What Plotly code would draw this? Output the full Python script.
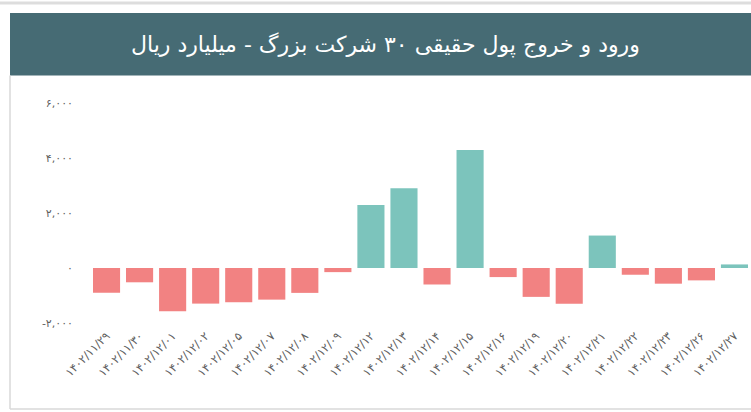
import plotly.graph_objects as go

dates = ["1402/11/29", "1402/11/30", "1402/12/01", "1402/12/02", "1402/12/05",
         "1402/12/07", "1402/12/08", "1402/12/09", "1402/12/12", "1402/12/13",
         "1402/12/14", "1402/12/15", "1402/12/16", "1402/12/19", "1402/12/20",
         "1402/12/21", "1402/12/22", "1402/12/23", "1402/12/26", "1402/12/27"]
values = [-900, -520, -1570, -1295, -1245, -1150, -905, -150, 2290, 2900,
          -600, 4290, -330, -1050, -1300, 1180, -245, -570, -450, 130]
ytick_vals = [-2000, 0, 2000, 4000, 6000]
title_text = "ورود و خروج پول حقیقی ۳۰ شرکت بزرگ - میلیارد ریال"

POS_COLOR = "#7CC4BC"
NEG_COLOR = "#F28282"

fa_digits = str.maketrans("0123456789", "۰۱۲۳۴۵۶۷۸۹")


def to_fa(s):
    return s.translate(fa_digits)


x_labels = [to_fa(d) for d in dates]
ytick_text = [("-" if v < 0 else "") + to_fa(f"{abs(v):,}") for v in ytick_vals]
colors = [POS_COLOR if v >= 0 else NEG_COLOR for v in values]

fig = go.Figure(go.Bar(x=x_labels, y=values, marker=dict(color=colors, line=dict(width=0)),
                       hoverinfo="x+y"))

W, H = 751, 412
L, R, T, B = 90, 0, 102.5, 88.5
pw, ph = W - L - R, H - T - B


def px_x(p):
    return (p - L) / pw


def px_y(p):
    return (H - B - p) / ph


fig.update_layout(
    width=W, height=H,
    margin=dict(l=L, r=R, t=T, b=B, autoexpand=False),
    paper_bgcolor="white", plot_bgcolor="white",
    showlegend=False,
    bargap=0.18,
    font=dict(family="DejaVu Sans", color="#666666"),
    xaxis=dict(type="category", tickangle=-45, showgrid=False, zeroline=False,
               showline=False, ticks="", tickfont=dict(size=11.5, color="#606060"),
               range=[-0.5, len(dates) - 0.5], ticklabelstandoff=3),
    yaxis=dict(range=[-2000, 6000], tickvals=ytick_vals, ticktext=ytick_text,
               showgrid=False, zeroline=False, showline=False, ticks="",
               tickfont=dict(size=11, color="#606060"), ticklabelstandoff=16),
    shapes=[
        dict(type="rect", xref="paper", yref="paper",
             x0=px_x(10), x1=px_x(751), y0=px_y(75), y1=px_y(12),
             fillcolor="#466B74", line=dict(width=0), layer="below"),
        dict(type="line", xref="paper", yref="paper",
             x0=px_x(10), x1=px_x(10), y0=px_y(75), y1=px_y(410),
             line=dict(color="#D9D9D9", width=1.5)),
        dict(type="line", xref="paper", yref="paper",
             x0=px_x(10), x1=px_x(751), y0=px_y(410), y1=px_y(410),
             line=dict(color="#D9D9D9", width=1.5)),
        dict(type="line", xref="paper", yref="paper",
             x0=px_x(0), x1=px_x(751), y0=px_y(2), y1=px_y(2),
             line=dict(color="#DDDDDD", width=3)),
    ],
    annotations=[
        dict(text=title_text, xref="paper", yref="paper", x=px_x(385), y=px_y(44),
             xanchor="center", yanchor="middle", showarrow=False,
             font=dict(size=22, color="white", family="DejaVu Sans")),
    ],
)

fig.write_html("out.html", config={"displayModeBar": False},
               post_script="document.body.style.margin='0';document.body.style.overflow='hidden';")
